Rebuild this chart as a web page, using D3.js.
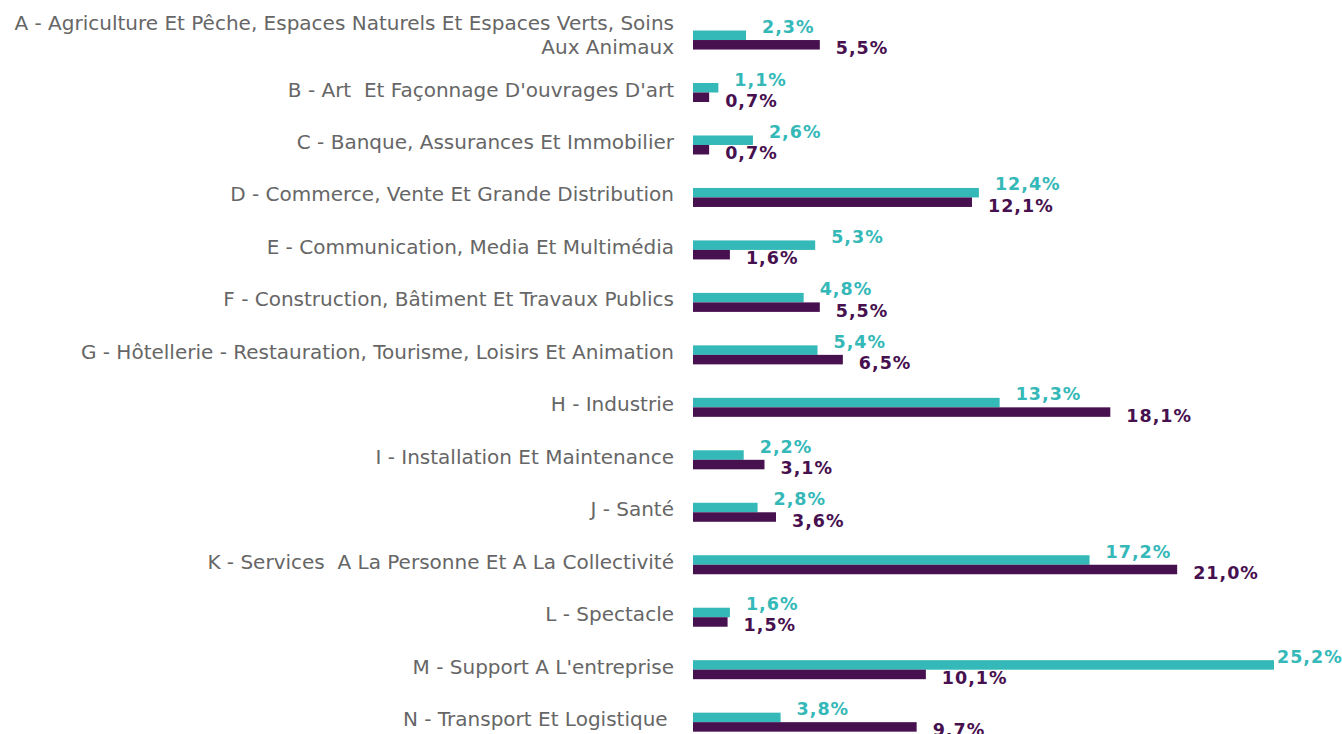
<!DOCTYPE html>
<html>
<head>
<meta charset="utf-8">
<script src="https://cdn.jsdelivr.net/npm/d3@7"></script>
<style>
  body { margin: 0; background: #fff; }
  text { white-space: pre; }
</style>
</head>
<body>
<div id="chart"></div>
<script>
const categories = [
  "A - Agriculture Et Pêche, Espaces Naturels Et Espaces Verts, Soins|Aux Animaux",
  "B - Art  Et Façonnage D'ouvrages D'art",
  "C - Banque, Assurances Et Immobilier",
  "D - Commerce, Vente Et Grande Distribution",
  "E - Communication, Media Et Multimédia",
  "F - Construction, Bâtiment Et Travaux Publics",
  "G - Hôtellerie - Restauration, Tourisme, Loisirs Et Animation",
  "H - Industrie",
  "I - Installation Et Maintenance",
  "J - Santé",
  "K - Services  A La Personne Et A La Collectivité",
  "L - Spectacle",
  "M - Support A L'entreprise",
  "N - Transport Et Logistique "
];
const seriesTeal   = [2.3, 1.1, 2.6, 12.4, 5.3, 4.8, 5.4, 13.3, 2.2, 2.8, 17.2, 1.6, 25.2, 3.8];
const seriesPurple = [5.5, 0.7, 0.7, 12.1, 1.6, 5.5, 6.5, 18.1, 3.1, 3.6, 21.0, 1.5, 10.1, 9.7];
const seriesNames = ["teal", "purple"];
const colors = { teal: "#35b8b8", purple: "#47104f" };

const width = 1342, height = 734;

const svg = d3.select("#chart")
    .append("svg")
    .attr("width", width)
    .attr("height", height);

const x = d3.scaleLinear()
    .domain([0, 25.2])
    .range([693, 1274]);

const y = d3.scaleBand()
    .domain(categories)
    .range([13.8, 748.4]);

const y1 = d3.scaleBand()
    .domain(seriesNames)
    .range([-9.5, 9.5]);

const fmt = v => d3.format(".1f")(v).replace(".", ",") + "%";

const rows = categories.map((c, i) => ({
  cat: c,
  values: [
    { key: "teal", v: seriesTeal[i] },
    { key: "purple", v: seriesPurple[i] }
  ]
}));

// category labels
const labels = svg.append("g")
    .selectAll("text")
    .data(rows)
    .enter().append("text")
    .attr("x", 674)
    .attr("y", d => y(d.cat) + y.bandwidth() / 2)
    .attr("text-anchor", "end")
    .attr("font-family", "DejaVu Sans")
    .attr("font-size", 20)
    .attr("fill", "#666666");

labels.each(function(d) {
  const lines = d.cat.split("|");
  const t = d3.select(this);
  const start = lines.length === 1 ? 4 : -10;
  lines.forEach((l, j) => {
    t.append("tspan")
      .attr("x", 674)
      .attr("dy", j === 0 ? start : 24)
      .text(l);
  });
});

// bars
const groups = svg.append("g")
    .selectAll("g")
    .data(rows)
    .enter().append("g")
    .attr("transform", d => `translate(0,${y(d.cat) + y.bandwidth() / 2})`);

groups.selectAll("rect")
    .data(d => d.values)
    .enter().append("rect")
    .attr("x", x(0))
    .attr("y", d => y1(d.key))
    .attr("width", d => x(d.v) - x(0))
    .attr("height", y1.bandwidth())
    .attr("fill", d => colors[d.key]);

// value labels
groups.selectAll("text")
    .data(d => d.values)
    .enter().append("text")
    .attr("x", d => Math.min(x(d.v) + 16, 1277))
    .attr("y", d => d.key === "teal" ? y1(d.key) - 3.5 : y1(d.key) + y1.bandwidth() / 2 + 3.5)
    .attr("dominant-baseline", "central")
    .attr("font-family", "DejaVu Sans")
    .attr("font-weight", "bold")
    .attr("font-size", 17.5)
    .attr("letter-spacing", 1)
    .attr("fill", d => colors[d.key])
    .text(d => fmt(d.v));
</script>
</body>
</html>
